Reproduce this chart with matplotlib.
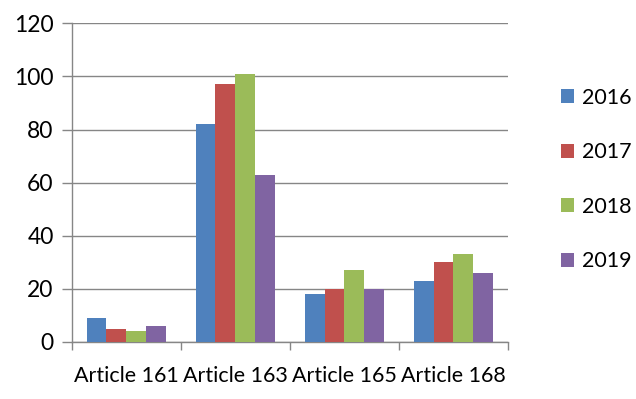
import matplotlib.pyplot as plt
from matplotlib.patches import Patch

# ===== Data ==================================================================
categories = ["Article 161", "Article 163", "Article 165", "Article 168"]
years = ["2016", "2017", "2018", "2019"]
values = {
    "2016": [9, 82, 18, 23],
    "2017": [5, 97, 20, 30],
    "2018": [4, 101, 27, 33],
    "2019": [6, 63, 20, 26],
}
colors = ["#4F81BD", "#C0504D", "#9BBB59", "#8064A2"]

# ===== Plotting ==============================================================
plt.rcParams['font.family'] = ['Lato', 'DejaVu Sans']
GRID = "#868686"

fig = plt.figure(figsize=(6.36, 3.99), dpi=100)
ax = fig.add_axes([0.1127, 0.1429, 0.686, 0.7987])

bar_w = 1 / 5.5
for i, yr in enumerate(years):
    xs = [c + (i - 1.5) * bar_w for c in range(len(categories))]
    ax.bar(xs, values[yr], width=bar_w, color=colors[i], zorder=3, label=yr)

ax.set_xlim(-0.5, len(categories) - 0.5)
ax.set_ylim(0, 120)
ax.set_yticks(range(0, 121, 20))
ax.yaxis.grid(True, color=GRID, linewidth=1.0, zorder=0)

# category ticks sit on the group boundaries, labels centred
ax.set_xticks([c - 0.5 for c in range(len(categories) + 1)])
ax.set_xticklabels([])
ax.set_xticks(range(len(categories)), minor=True)
ax.set_xticklabels(categories, minor=True, fontsize=15.5)
ax.tick_params(axis='x', which='major', length=6, color=GRID, width=1)
ax.tick_params(axis='x', which='minor', length=0, pad=17)
ax.tick_params(axis='y', length=7, color=GRID, width=1, labelsize=16.5, pad=6)

for side in ['top', 'right']:
    ax.spines[side].set_visible(False)
for side in ['left', 'bottom']:
    ax.spines[side].set_color(GRID)
    ax.spines[side].set_linewidth(1.0)

handles = [Patch(facecolor=colors[i], label=yr) for i, yr in enumerate(years)]
fig.legend(handles=handles, loc='center left', bbox_to_anchor=(0.882, 0.55),
           frameon=False, fontsize=15.5, handlelength=0.62, handleheight=0.62,
           handletextpad=0.35, labelspacing=1.6, borderpad=0, borderaxespad=0)

fig.savefig("out.png", dpi=100)
